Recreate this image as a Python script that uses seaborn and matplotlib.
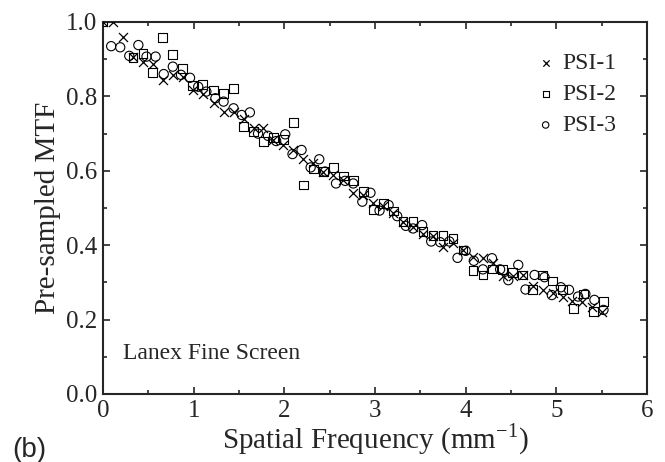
import numpy as np
import pandas as pd
import matplotlib
matplotlib.use("Agg")
import matplotlib.pyplot as plt
import seaborn as sns
from matplotlib.ticker import MultipleLocator

psi1_x = [0.00, 0.11, 0.22, 0.33, 0.44, 0.55, 0.66, 0.77, 0.88, 0.99, 1.10, 1.22, 1.33, 1.44, 1.55,
          1.66, 1.77, 1.88, 1.99, 2.10, 2.21, 2.32, 2.43, 2.54, 2.65, 2.76, 2.87, 2.98, 3.09, 3.20,
          3.31, 3.42, 3.53, 3.64, 3.75, 3.86, 3.97, 4.08, 4.19, 4.30, 4.41, 4.52, 4.63, 4.74, 4.85,
          4.96, 5.07, 5.17, 5.28, 5.39, 5.50]
psi1_y = [1.000, 1.000, 0.960, 0.905, 0.893, 0.887, 0.844, 0.858, 0.853, 0.817, 0.806, 0.781, 0.759,
          0.759, 0.738, 0.714, 0.714, 0.683, 0.669, 0.656, 0.632, 0.620, 0.598, 0.589, 0.575, 0.541,
          0.535, 0.513, 0.505, 0.487, 0.462, 0.448, 0.430, 0.425, 0.396, 0.405, 0.387, 0.369, 0.365,
          0.351, 0.318, 0.317, 0.320, 0.290, 0.280, 0.272, 0.262, 0.250, 0.248, 0.235, 0.221]

psi2_x = [0.00, 0.33, 0.44, 0.55, 0.66, 0.77, 0.88, 0.99, 1.10, 1.22, 1.33, 1.44, 1.55, 1.66, 1.77,
          1.88, 1.99, 2.10, 2.21, 2.32, 2.43, 2.54, 2.65, 2.76, 2.87, 2.98, 3.09, 3.20, 3.31, 3.42,
          3.53, 3.64, 3.75, 3.86, 3.97, 4.08, 4.19, 4.30, 4.41, 4.52, 4.63, 4.74, 4.85, 4.96, 5.07,
          5.19, 5.30, 5.41, 5.52]
psi2_y = [1.000, 0.905, 0.916, 0.865, 0.958, 0.913, 0.874, 0.829, 0.831, 0.817, 0.808, 0.822, 0.719,
          0.705, 0.678, 0.690, 0.685, 0.729, 0.562, 0.605, 0.598, 0.609, 0.586, 0.573, 0.544, 0.496,
          0.513, 0.492, 0.463, 0.463, 0.436, 0.427, 0.427, 0.419, 0.387, 0.331, 0.320, 0.336, 0.334,
          0.326, 0.320, 0.281, 0.320, 0.304, 0.281, 0.230, 0.269, 0.221, 0.248]

psi3_x = [0.09, 0.19, 0.29, 0.39, 0.48, 0.58, 0.67, 0.77, 0.86, 0.96, 1.05, 1.14, 1.24, 1.33, 1.44,
          1.53, 1.62, 1.71, 1.82, 1.91, 2.01, 2.09, 2.19, 2.29, 2.385, 2.45, 2.57, 2.67, 2.76, 2.86,
          2.95, 3.05, 3.15, 3.245, 3.34, 3.42, 3.52, 3.62, 3.72, 3.82, 3.91, 4.00, 4.09, 4.19, 4.29,
          4.38, 4.47, 4.58, 4.66, 4.76, 4.87, 4.95, 5.05, 5.14, 5.24, 5.32, 5.42, 5.52]
psi3_y = [0.935, 0.932, 0.909, 0.938, 0.907, 0.907, 0.860, 0.880, 0.858, 0.850, 0.826, 0.813, 0.795,
          0.786, 0.768, 0.750, 0.757, 0.700, 0.694, 0.680, 0.698, 0.645, 0.656, 0.609, 0.631, 0.598,
          0.566, 0.573, 0.566, 0.517, 0.541, 0.493, 0.508, 0.478, 0.452, 0.445, 0.454, 0.410, 0.408,
          0.410, 0.366, 0.385, 0.358, 0.335, 0.365, 0.335, 0.306, 0.347, 0.281, 0.320, 0.314, 0.266,
          0.287, 0.280, 0.262, 0.269, 0.253, 0.226]

series_names = ["PSI-1", "PSI-2", "PSI-3"]

df = pd.concat([
    pd.DataFrame({"freq": psi1_x, "mtf": psi1_y, "series": series_names[0]}),
    pd.DataFrame({"freq": psi2_x, "mtf": psi2_y, "series": series_names[1]}),
    pd.DataFrame({"freq": psi3_x, "mtf": psi3_y, "series": series_names[2]}),
])

sns.set_theme(style="ticks")
plt.rcParams["font.family"] = ["Liberation Serif", "DejaVu Serif"]

fig = plt.figure(figsize=(6.65, 4.62), dpi=100)
ax = fig.add_axes([103 / 665, 1 - 394 / 462, 544 / 665, 372 / 462])

styles = {
    "PSI-1": dict(marker="x", color="black", linewidth=0.9, s=42),
    "PSI-2": dict(marker="s", facecolor="none", edgecolor="black", linewidth=0.8, s=40),
    "PSI-3": dict(marker="o", facecolor="none", edgecolor="black", linewidth=0.8, s=44),
}
for name in series_names:
    sub = df[df["series"] == name]
    sns.scatterplot(data=sub, x="freq", y="mtf", ax=ax, label=name, zorder=3, **styles[name])

ax.set_xlim(0, 6)
ax.set_ylim(0, 1.0)
ax.xaxis.set_major_locator(MultipleLocator(1))
ax.xaxis.set_minor_locator(MultipleLocator(0.5))
ax.yaxis.set_major_locator(MultipleLocator(0.2))
ax.yaxis.set_minor_locator(MultipleLocator(0.1))
ax.xaxis.set_major_formatter(matplotlib.ticker.FormatStrFormatter("%d"))
ax.yaxis.set_major_formatter(matplotlib.ticker.FormatStrFormatter("%.1f"))
ax.tick_params(which="both", direction="in", top=True, right=True, labelsize=18, width=1.2)
ax.tick_params(axis="x", pad=4)
ax.tick_params(axis="y", pad=4)
ax.tick_params(which="major", length=5)
ax.tick_params(which="minor", length=3)
for sp in ax.spines.values():
    sp.set_linewidth(1.5)
    sp.set_visible(True)

ax.set_xlabel("Spatial Frequency (mm$^{\\mathregular{-1}}$)", fontsize=21, labelpad=0)
ax.set_ylabel("Pre-sampled MTF", fontsize=21, labelpad=4)

ax.text(0.22, 0.11, "Lanex Fine Screen", fontsize=17, va="center", ha="left")
fig.text(12 / 665, 1 - 450 / 462, "(b)", fontsize=20, family=["Liberation Sans", "DejaVu Sans"],
         va="center", ha="left")

leg = ax.legend(loc="upper right", frameon=False, fontsize=17, handletextpad=0.2,
                markerscale=0.7, labelspacing=0.4, borderaxespad=0.9, handlelength=1.0)

fig.savefig("out.png", dpi=100)
